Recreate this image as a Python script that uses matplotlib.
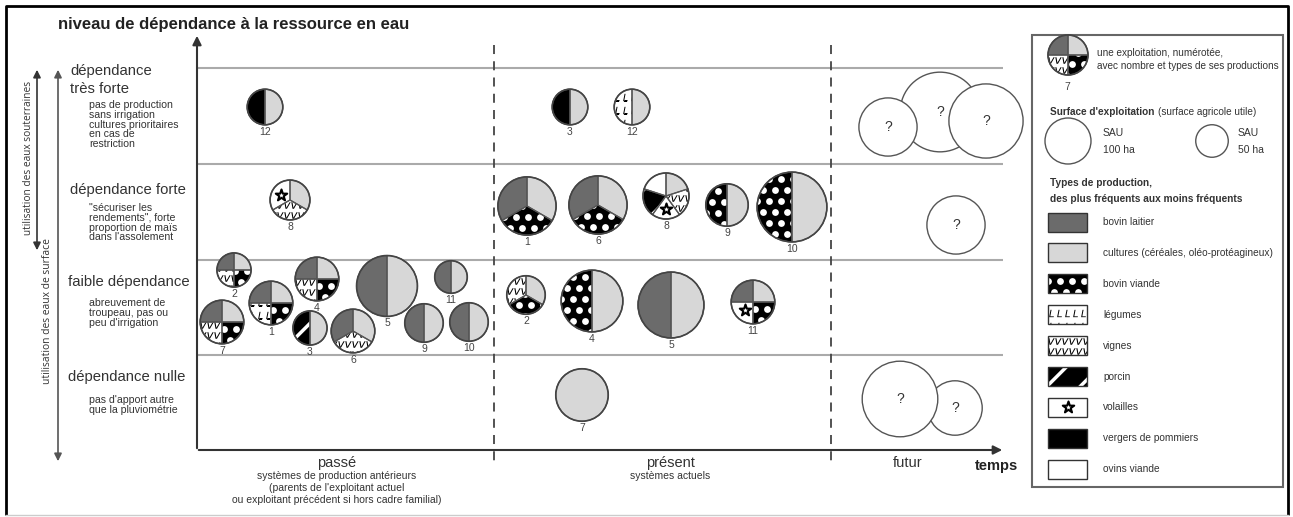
import numpy as np
import matplotlib.pyplot as plt
from matplotlib.patches import Wedge, Circle, Rectangle

plt.rcParams['font.family'] = ['Liberation Sans', 'DejaVu Sans']
plt.rcParams['hatch.linewidth'] = 2.5

# lignes (niveau de dépendance) et colonnes (période)
niveaux = ["dépendance\ntrès forte", "dépendance forte", "faible dépendance", "dépendance nulle"]
niveaux_desc = ["pas de production\nsans irrigation\ncultures prioritaires\nen cas de\nrestriction",
                "\"sécuriser les\nrendements\", forte\nproportion de maïs\ndans l'assolement",
                "abreuvement de\ntroupeau, pas ou\npeu d'irrigation",
                "pas d'apport autre\nque la pluviométrie"]
periodes = ["passé", "présent", "futur"]
periodes_desc = ["systèmes de production antérieurs\n(parents de l'exploitant actuel\nou exploitant précédent si hors cadre familial)",
                 "systèmes actuels", ""]

# types de production (ordre de la légende)
productions = ["laitier", "cultures", "viande", "legumes", "vignes", "porcin", "volailles", "vergers", "ovins"]
productions_lbl = ["bovin laitier", "cultures (céréales, oléo-protéagineux)", "bovin viande", "légumes",
                   "vignes", "porcin", "volailles", "vergers de pommiers", "ovins viande"]

# exploitations : numéro, période, niveau, SAU (ha), productions (sens horaire depuis midi)
expl_num = [12, 8, 2, 4, 1, 7, 3, 6, 5, 11, 9, 10,
            3, 12, 1, 6, 8, 9, 10, 2, 4, 5, 11, 7]
expl_periode = [0] * 12 + [1] * 12
expl_niveau = [0, 1, 2, 2, 2, 2, 2, 2, 2, 2, 2, 2,
               0, 0, 1, 1, 1, 1, 1, 2, 2, 2, 2, 3]
expl_sau = [60, 75, 55, 90, 90, 90, 55, 90, 175, 50, 70, 70,
            60, 60, 160, 160, 100, 85, 230, 70, 180, 205, 90, 130]
expl_prod = [
    ["cultures", "vergers"],
    ["cultures", "vignes", "volailles"],
    ["cultures", "viande", "vignes", "laitier"],
    ["cultures", "viande", "vignes", "laitier"],
    ["cultures", "viande", "legumes", "laitier"],
    ["cultures", "viande", "vignes", "laitier"],
    ["cultures", "porcin"],
    ["cultures", "vignes", "laitier"],
    ["cultures", "laitier"],
    ["cultures", "laitier"],
    ["cultures", "laitier"],
    ["cultures", "laitier"],
    ["cultures", "vergers"],
    ["cultures", "legumes"],
    ["cultures", "viande", "laitier"],
    ["cultures", "viande", "laitier"],
    ["cultures", "vignes", "volailles", "porcin", "ovins"],
    ["cultures", "viande"],
    ["cultures", "viande"],
    ["cultures", "viande", "vignes"],
    ["cultures", "viande"],
    ["cultures", "laitier"],
    ["cultures", "viande", "volailles", "laitier"],
    ["cultures"],
]

# futur : exploitations inconnues
futur_niveau = [0, 0, 0, 1, 3, 3]
futur_sau = [300, 160, 260, 160, 140, 270]

# légende des surfaces
legende_sau = [100, 50]

# mise en page (pixels de l'image)
expl_x = [265, 290, 234, 317, 271, 222, 310, 353, 387, 451, 424, 469,
          570, 632, 527, 598, 666, 727, 792, 526, 592, 671, 753, 582]
expl_y = [107, 200, 270, 279, 303, 322, 328, 331, 286, 277, 323, 322,
          107, 107, 206, 205, 196, 205, 207, 295, 301, 305, 302, 395]
futur_x = [940, 888, 986, 956, 955, 900]
futur_y = [112, 127, 121, 225, 408, 399]

fill = {"laitier": "#6b6b6b", "cultures": "#d7d7d7", "viande": "black", "legumes": "white",
        "vignes": "white", "porcin": "black", "volailles": "white", "vergers": "black", "ovins": "white"}
txt = "#333333"

fig = plt.figure(figsize=(12.93, 5.17), dpi=100)
ax = fig.add_axes([0, 0, 1, 1])
ax.set_xlim(0, 1293)
ax.set_ylim(517, 0)
ax.axis('off')


def rayon(sau):
    return 23 * np.sqrt(sau / 100)


def grille(x0, x1, y0, y1, dx, dy, decal):
    xs = np.arange(x0, x1 + dx, dx)
    ys = np.arange(y0, y1 + dy, dy)
    gx, gy = np.meshgrid(xs, ys)
    gx = gx + (np.arange(len(ys))[:, None] % 2) * decal
    return gx.ravel(), gy.ravel()


def texture(kind, clip, x0, x1, y0, y1, sx, sy, z):
    if kind == "viande":
        gx, gy = grille(x0 - 6, x1, y0 - 4, y1, 12, 11, 6)
        sc = ax.scatter(gx, gy, s=24, color="white", linewidths=0, zorder=z)
        sc.set_clip_path(clip)
    elif kind == "legumes":
        gx, gy = grille(x0 + 3, x1, y0 + 8, y1, 8, 13, 0)
        sc = ax.scatter(gx, gy, s=28, marker="$L$", color="black", linewidths=0, zorder=z)
        sc.set_clip_path(clip)
    elif kind == "vignes":
        gx, gy = grille(x0 + 3, x1, y0 + 5, y1, 7, 10, 0)
        sc = ax.scatter(gx, gy, s=22, marker="$v$", color="black", linewidths=0, zorder=z)
        sc.set_clip_path(clip)
    elif kind == "volailles":
        ax.scatter([sx], [sy], marker="*", s=75, facecolor="white", edgecolor="black",
                   linewidths=1.5, zorder=z)


def camembert(cx, cy, r, prods, z=3):
    n = len(prods)
    for i, p in enumerate(prods):
        t1, t2 = i * 360 / n - 90, (i + 1) * 360 / n - 90
        if n == 1:
            t1, t2 = 0, 360
        w = Wedge((cx, cy), r, t1, t2, facecolor=fill[p], edgecolor="white", lw=0,
                  hatch="/" if p == "porcin" else None, zorder=z)
        ax.add_patch(w)
        mid = np.deg2rad((t1 + t2) / 2)
        d = 0.55 * r if n > 1 else 0
        texture(p, w, cx - r, cx + r, cy - r, cy + r,
                cx + d * np.cos(mid), cy + d * np.sin(mid), z + 0.1)
        ax.add_patch(Wedge((cx, cy), r, t1, t2, fill=False, edgecolor="#555555", lw=0.9, zorder=z + 0.2))
    ax.add_patch(Circle((cx, cy), r, fill=False, edgecolor="#444444", lw=1.2, zorder=z + 0.3))


# cadre extérieur
ax.plot([6, 6, 1288, 1288], [515, 6, 6, 515], color="black", lw=2, solid_capstyle="butt")
ax.plot([6, 1288], [515, 515], color="#cccccc", lw=1)

# grille du diagramme
ax.hlines([68, 164, 260, 355], 197, 1003, color="#aaaaaa", lw=1.5, zorder=1)
ax.vlines([494, 831], 45, 462, color="#444444", lw=1.3, linestyles=(0, (5, 4)), zorder=1)
ax.annotate("", xy=(197, 33), xytext=(197, 451),
            arrowprops=dict(arrowstyle="-|>", color="#333333", lw=1.5, mutation_scale=13))
ax.annotate("", xy=(1005, 450), xytext=(196, 450),
            arrowprops=dict(arrowstyle="-|>", color="#333333", lw=1.5, mutation_scale=13))
ax.text(58, 25, "niveau de dépendance à la ressource en eau", fontsize=12, fontweight="bold",
        color="#222222", ha="left", va="center")
ax.text(975, 466, "temps", fontsize=10.5, fontweight="bold", color="#222222", ha="left", va="center")

# flèches gauches
ax.annotate("", xy=(37, 67), xytext=(37, 253),
            arrowprops=dict(arrowstyle="<|-|>", color="#333333", lw=1.2, mutation_scale=11))
ax.annotate("", xy=(58, 67), xytext=(58, 464),
            arrowprops=dict(arrowstyle="<|-|>", color="#555555", lw=1.2, mutation_scale=11))
ax.text(29, 158, "utilisation des eaux souterraines", fontsize=7.3, rotation=90, color=txt,
        ha="center", va="center", family=["Open Sans", "DejaVu Sans"])
ax.text(48, 311, "utilisation des eaux de surface", fontsize=7.4, rotation=90, color=txt,
        ha="center", va="center", family=["Open Sans", "DejaVu Sans"])

# libellés des lignes
niv_x = [70, 70, 68, 68]
niv_y = [80, 190, 282, 377]
desc_y = [100, 203, 298, 395]
for k in range(4):
    ax.text(niv_x[k], niv_y[k], niveaux[k], fontsize=10.7, color=txt, ha="left", va="center",
            linespacing=1.35)
    ax.text(89, desc_y[k], niveaux_desc[k], fontsize=7.6, color=txt, ha="left", va="top",
            linespacing=0.97)

# libellés des colonnes
per_x = [337, 670, 908]
for k in range(3):
    ax.text(per_x[k], 463, periodes[k], fontsize=10.5, color=txt, ha="center", va="center")
    if periodes_desc[k]:
        ax.text(per_x[k], 471, periodes_desc[k], fontsize=7.5, color=txt, ha="center", va="top",
                linespacing=1.25)

# exploitations
for k in range(len(expl_num)):
    r = rayon(expl_sau[k])
    camembert(expl_x[k], expl_y[k], r, expl_prod[k])
    ax.text(expl_x[k], expl_y[k] + r + 7, str(expl_num[k]), fontsize=7.5, color="#444444",
            ha="center", va="center")

for k in range(len(futur_sau)):
    r = rayon(futur_sau[k])
    ax.add_patch(Circle((futur_x[k], futur_y[k]), r, facecolor="white", edgecolor="#555555",
                        lw=1, zorder=3 + k * 0.01))
    ax.text(futur_x[k], futur_y[k], "?", fontsize=10, color="#333333", ha="center", va="center",
            zorder=3 + k * 0.01)

# légende
ax.add_patch(Rectangle((1032, 35), 251, 452, fill=False, edgecolor="#666666", lw=1.5))
camembert(1068, 55, 20, expl_prod[5])
ax.text(1067, 87, "7", fontsize=7.5, color="#444444", ha="center", va="center")
ax.text(1097, 53, "une exploitation, numérotée,", fontsize=7.2, color=txt, ha="left", va="center")
ax.text(1097, 66, "avec nombre et types de ses productions", fontsize=7.2, color=txt, ha="left", va="center")
ax.text(1050, 112, "Surface d'exploitation", fontsize=7.2, fontweight="bold", color=txt, ha="left", va="center")
ax.text(1158, 112, "(surface agricole utile)", fontsize=7.2, color=txt, ha="left", va="center")
sau_x = [1068, 1212]
sau_dx = [35, 26]
for k, s in enumerate(legende_sau):
    ax.add_patch(Circle((sau_x[k], 141), rayon(s), fill=False, edgecolor="#555555", lw=1))
    ax.text(sau_x[k] + sau_dx[k], 133, "SAU", fontsize=7.5, color=txt, va="center")
    ax.text(sau_x[k] + sau_dx[k], 150, f"{s} ha", fontsize=7.5, color=txt, va="center")
ax.text(1050, 183, "Types de production,", fontsize=7.3, fontweight="bold", color=txt, ha="left", va="center")
ax.text(1050, 199, "des plus fréquents aux moins fréquents", fontsize=7.3, fontweight="bold", color=txt,
        ha="left", va="center")
for k, p in enumerate(productions):
    yc = 222 + k * 30.9
    rect = Rectangle((1048, yc - 9.5), 39, 19, facecolor=fill[p], edgecolor="white", lw=0,
                     hatch="/" if p == "porcin" else None, zorder=3)
    ax.add_patch(rect)
    texture(p, rect, 1048, 1087, yc - 9.5, yc + 9.5, 1067.5, yc, 3.1)
    ax.add_patch(Rectangle((1048, yc - 9.5), 39, 19, fill=False, edgecolor="#333333", lw=1, zorder=3.2))
    ax.text(1103, yc, productions_lbl[k], fontsize=7.3, color=txt, ha="left", va="center")

fig.savefig("out.png", dpi=100)
